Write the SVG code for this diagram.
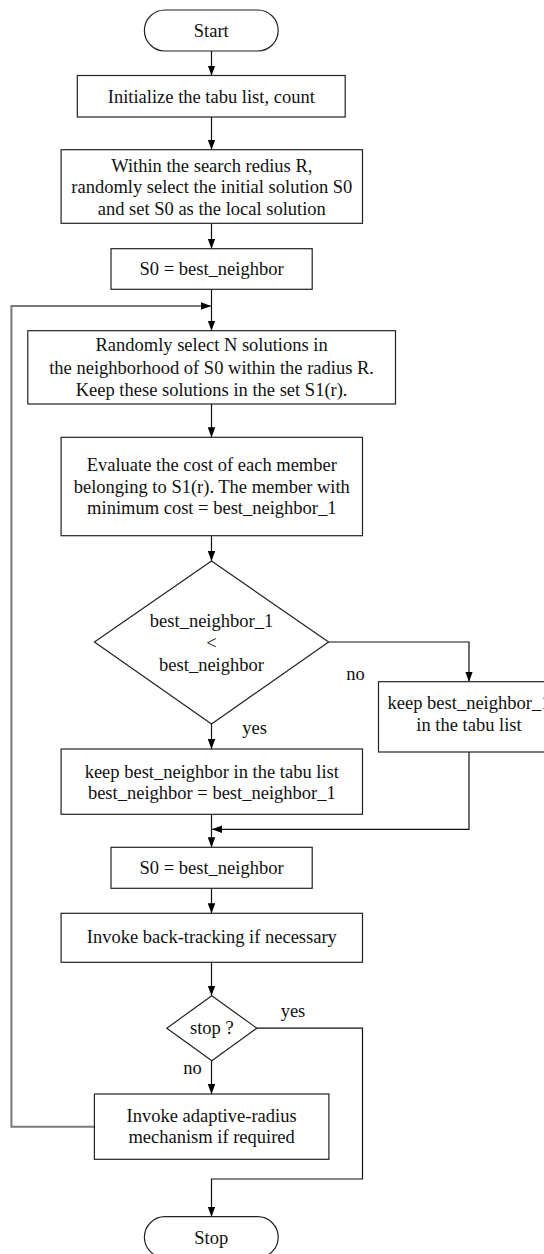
<svg xmlns="http://www.w3.org/2000/svg" width="544" height="1254" viewBox="0 0 544 1254">
<style>
.box{fill:#fff;stroke:#222;stroke-width:1.2}
.t{font-family:"Liberation Serif","Times New Roman",serif;font-size:18.5px;fill:#111;text-anchor:middle}
.c{fill:none;stroke:#111;stroke-width:1.2}
.loop{fill:none;stroke:#7a7a7a;stroke-width:2}
</style>
<defs>
<marker id="ah" markerUnits="userSpaceOnUse" markerWidth="10" markerHeight="14" refX="12" refY="4.5" orient="auto" viewBox="0 0 12 9">
<path d="M0,0 L12,4.5 L0,9 Z" fill="#000"/>
</marker>
</defs>
<g id="connectors">
<line class="c" x1="211.5" y1="51" x2="211.5" y2="75.5" marker-end="url(#ah)"/>
<line class="c" x1="211.5" y1="117" x2="211.5" y2="149.7" marker-end="url(#ah)"/>
<line class="c" x1="211.5" y1="223.3" x2="211.5" y2="248.7" marker-end="url(#ah)"/>
<line class="c" x1="211.5" y1="289.3" x2="211.5" y2="330.7" marker-end="url(#ah)"/>
<line class="c" x1="211.5" y1="404" x2="211.5" y2="437.3" marker-end="url(#ah)"/>
<line class="c" x1="211.5" y1="535.7" x2="211.5" y2="561" marker-end="url(#ah)"/>
<polyline class="c" points="328.6,642 469,642 469,681.7" marker-end="url(#ah)"/>
<line class="c" x1="211.5" y1="724" x2="211.5" y2="749" marker-end="url(#ah)"/>
<line class="c" x1="211.5" y1="814.3" x2="211.5" y2="847.3" marker-end="url(#ah)"/>
<polyline class="c" points="469,752 469,829.3 212,829.3" marker-end="url(#ah)"/>
<line class="c" x1="211.5" y1="888.3" x2="211.5" y2="913.3" marker-end="url(#ah)"/>
<line class="c" x1="211.5" y1="962.3" x2="211.5" y2="995.7" marker-end="url(#ah)"/>
<line class="c" x1="211.5" y1="1060.7" x2="211.5" y2="1094" marker-end="url(#ah)"/>
<polyline class="c" points="256.8,1028.2 362.5,1028.2 362.5,1179 211.5,1179 211.5,1216.7" marker-end="url(#ah)"/>
<polyline class="loop" points="94.4,1126.7 11.4,1126.7 11.4,306 211,306" marker-end="url(#ah)"/>
<text class="t" x="355.5" y="680">no</text>
<text class="t" x="254.6" y="734">yes</text>
<text class="t" x="293" y="1017">yes</text>
<text class="t" x="192.5" y="1074">no</text>
</g>
<g id="start">
<rect class="box" x="144.4" y="10" width="133.8" height="41" rx="20.5"/>
<text class="t" x="211.3" y="36.7">Start</text>
</g>
<g id="init">
<rect class="box" x="77.3" y="75.5" width="267.9" height="41.5"/>
<text class="t" x="211.3" y="102.7">Initialize the tabu list, count</text>
</g>
<g id="initial-solution">
<rect class="box" x="61.1" y="149.7" width="301.4" height="73.6"/>
<text class="t" x="211.8" y="171.7">Within the search redius R,</text>
<text class="t" x="211.8" y="193">randomly select the initial solution S0</text>
<text class="t" x="211.8" y="214.5">and set S0 as the local solution</text>
</g>
<g id="s0-best-1">
<rect class="box" x="111" y="248.7" width="201.2" height="40.6"/>
<text class="t" x="211.6" y="275">S0 = best_neighbor</text>
</g>
<g id="select-n">
<rect class="box" x="27.8" y="330.7" width="367.7" height="73.3"/>
<text class="t" x="211.6" y="351">Randomly select N solutions in</text>
<text class="t" x="211.6" y="373.5">the neighborhood of S0 within the radius R.</text>
<text class="t" x="211.6" y="396">Keep these solutions in the set S1(r).</text>
</g>
<g id="evaluate">
<rect class="box" x="61.1" y="437.3" width="301.4" height="98.4"/>
<text class="t" x="211.8" y="471">Evaluate the cost of each member</text>
<text class="t" x="211.8" y="492.7">belonging to S1(r). The member with</text>
<text class="t" x="211.8" y="514.3">minimum cost = best_neighbor_1</text>
</g>
<g id="compare">
<polygon class="box" points="211.5,561 328.6,642 211.5,724 94.4,642"/>
<text class="t" x="211.5" y="626.7">best_neighbor_1</text>
<text class="t" x="211.5" y="648.6">&lt;</text>
<text class="t" x="211.5" y="671">best_neighbor</text>
</g>
<g id="keep-bn1">
<rect class="box" x="378.5" y="681.7" width="181" height="70.3"/>
<text class="t" x="469" y="709">keep best_neighbor_1</text>
<text class="t" x="469" y="731">in the tabu list</text>
</g>
<g id="keep-bn">
<rect class="box" x="61.1" y="749" width="301.4" height="65.3"/>
<text class="t" x="211.8" y="777.7">keep best_neighbor in the tabu list</text>
<text class="t" x="211.8" y="798.7">best_neighbor = best_neighbor_1</text>
</g>
<g id="s0-best-2">
<rect class="box" x="111" y="847.3" width="201.2" height="41"/>
<text class="t" x="211.6" y="874">S0 = best_neighbor</text>
</g>
<g id="backtrack">
<rect class="box" x="61.1" y="913.3" width="301.4" height="49"/>
<text class="t" x="211.8" y="943.3">Invoke back-tracking if necessary</text>
</g>
<g id="stop-check">
<polygon class="box" points="211.8,995.7 256.8,1028.2 211.8,1060.7 166.8,1028.2"/>
<text class="t" x="211.8" y="1034">stop ?</text>
</g>
<g id="adaptive">
<rect class="box" x="94.4" y="1094" width="234.5" height="65.3"/>
<text class="t" x="211.6" y="1122">Invoke adaptive-radius</text>
<text class="t" x="211.6" y="1142.7">mechanism if required</text>
</g>
<g id="stop">
<rect class="box" x="144.4" y="1216.7" width="133.8" height="41" rx="20.5"/>
<text class="t" x="211.3" y="1244.3">Stop</text>
</g>
</svg>
